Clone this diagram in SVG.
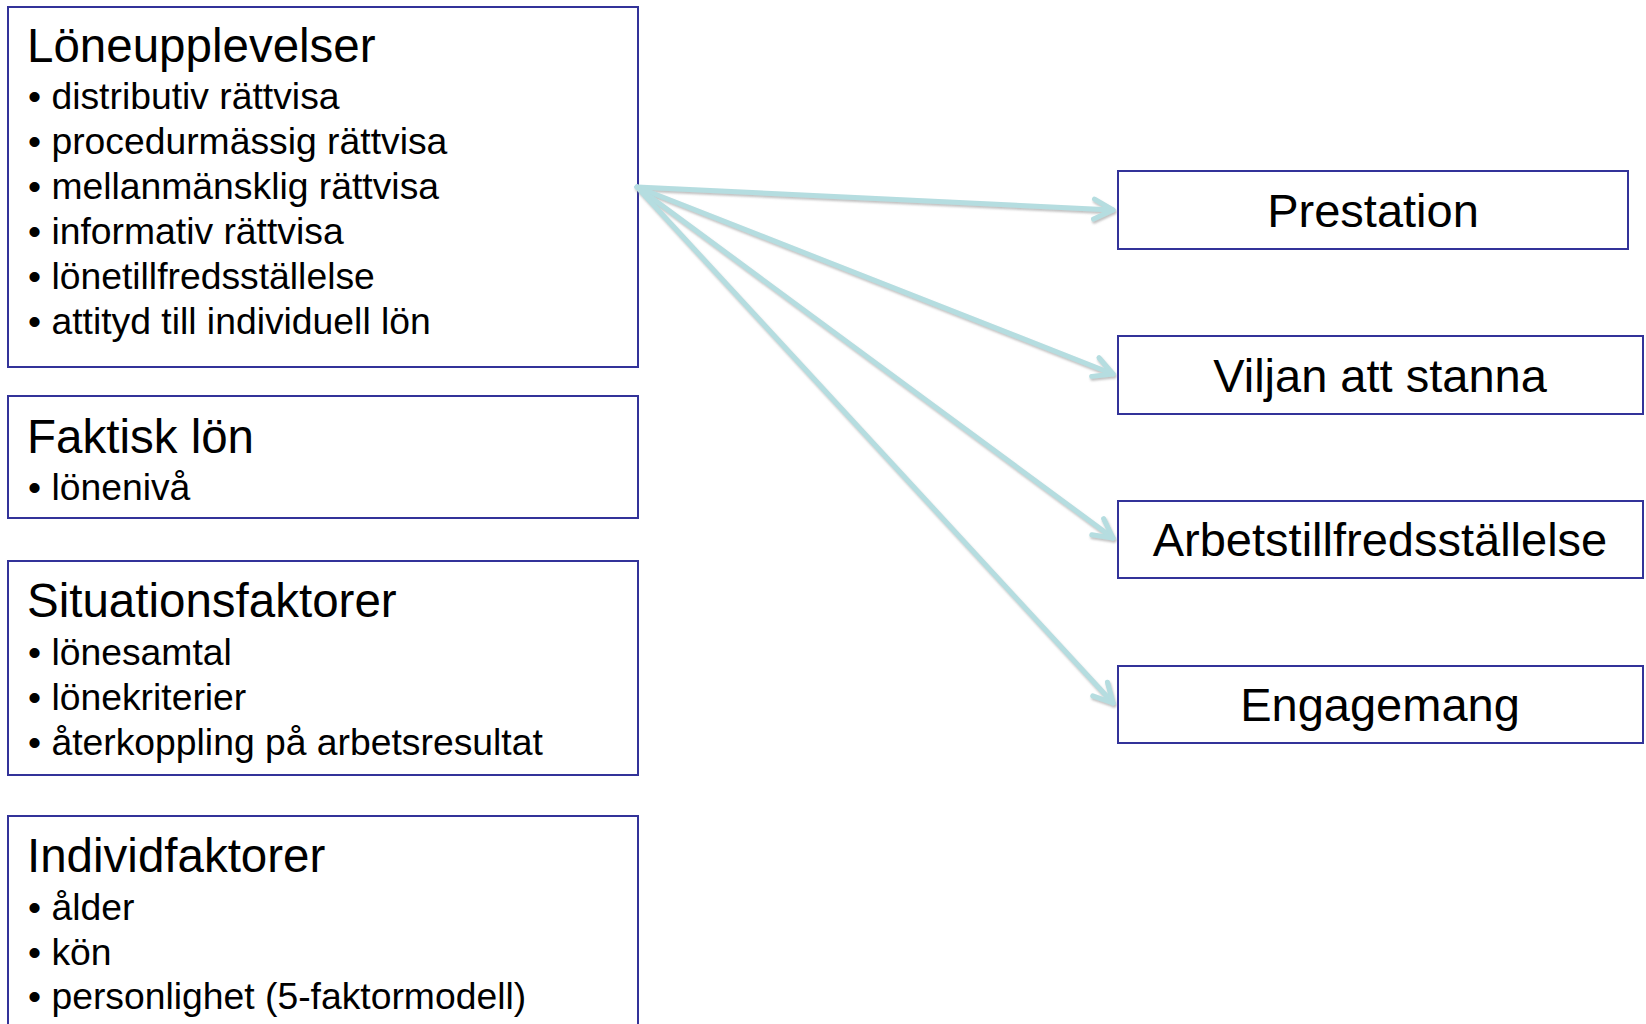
<svg xmlns="http://www.w3.org/2000/svg" width="1646" height="1024" viewBox="0 0 1646 1024">
<style>
.box{fill:#ffffff;stroke:#333399;stroke-width:2}
text{font-family:"Liberation Sans",Arial,Helvetica,sans-serif;fill:#000000}
.t{font-size:47.5px}
.b{font-size:37.3px}
.c{font-size:47px;text-anchor:middle}
.conn{stroke:#b5dde0;stroke-width:5;fill:none;stroke-linecap:round}
</style>
<defs>
<marker id="arr" markerUnits="userSpaceOnUse" markerWidth="40" markerHeight="40" viewBox="-30 -20 40 40" refX="0" refY="0" orient="auto">
<path d="M-19,-10 L0,0 L-19,10" fill="none" stroke="#b5dde0" stroke-width="5" stroke-linecap="round" stroke-linejoin="round"/>
</marker>
<filter id="sh" x="-5%" y="-5%" width="110%" height="110%">
<feDropShadow dx="1" dy="2" stdDeviation="1.2" flood-color="#808080" flood-opacity="0.5"/>
</filter>
</defs>
<rect width="1646" height="1024" fill="#ffffff"/>

<g id="loneupplevelser">
<rect class="box" x="8" y="7" width="630" height="360"/>
<text class="t" x="27" y="62">Löneupplevelser</text>
<text class="b" x="28" y="109">• distributiv rättvisa</text>
<text class="b" x="28" y="154">• procedurmässig rättvisa</text>
<text class="b" x="28" y="199">• mellanmänsklig rättvisa</text>
<text class="b" x="28" y="244">• informativ rättvisa</text>
<text class="b" x="28" y="289">• lönetillfredsställelse</text>
<text class="b" x="28" y="334">• attityd till individuell lön</text>
</g>

<g id="faktisk-lon">
<rect class="box" x="8" y="396" width="630" height="122"/>
<text class="t" x="27" y="453">Faktisk lön</text>
<text class="b" x="28" y="500">• lönenivå</text>
</g>

<g id="situationsfaktorer">
<rect class="box" x="8" y="561" width="630" height="214"/>
<text class="t" x="27" y="617">Situationsfaktorer</text>
<text class="b" x="28" y="665">• lönesamtal</text>
<text class="b" x="28" y="710">• lönekriterier</text>
<text class="b" x="28" y="755">• återkoppling på arbetsresultat</text>
</g>

<g id="individfaktorer">
<rect class="box" x="8" y="816" width="630" height="230"/>
<text class="t" x="27" y="872">Individfaktorer</text>
<text class="b" x="28" y="920">• ålder</text>
<text class="b" x="28" y="965">• kön</text>
<text class="b" x="28" y="1009">• personlighet (5-faktormodell)</text>
</g>

<g id="prestation">
<rect class="box" x="1118" y="171" width="510" height="78"/>
<text class="c" x="1373" y="227">Prestation</text>
</g>

<g id="viljan">
<rect class="box" x="1118" y="336" width="525" height="78"/>
<text class="c" x="1380" y="392">Viljan att stanna</text>
</g>

<g id="arbetstillfredsstallelse">
<rect class="box" x="1118" y="501" width="525" height="77"/>
<text class="c" x="1380" y="556">Arbetstillfredsställelse</text>
</g>

<g id="engagemang">
<rect class="box" x="1118" y="666" width="525" height="77"/>
<text class="c" x="1380" y="721">Engagemang</text>
</g>

<g id="connectors" filter="url(#sh)">
<line class="conn" x1="637" y1="187" x2="1113" y2="210" marker-end="url(#arr)"/>
<line class="conn" x1="637" y1="187" x2="1113" y2="374" marker-end="url(#arr)"/>
<line class="conn" x1="637" y1="187" x2="1113" y2="538" marker-end="url(#arr)"/>
<line class="conn" x1="637" y1="187" x2="1113" y2="703" marker-end="url(#arr)"/>
</g>
</svg>
